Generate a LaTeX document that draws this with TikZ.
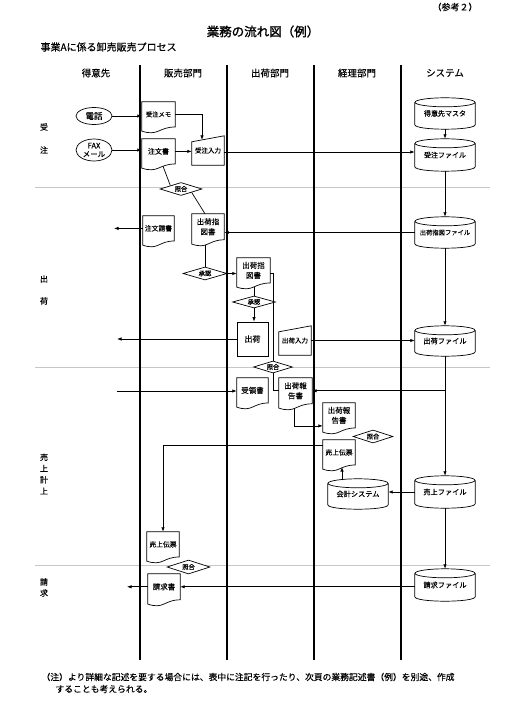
\documentclass[tikz,border=0pt]{standalone}
\usepackage{fontspec}
\setmainfont{Noto Sans CJK JP}[FakeBold=0.25]
\newfontfamily\jpb{Noto Sans CJK JP}[FakeBold=1.6]
\usetikzlibrary{calc,arrows.meta,shapes.geometric}
\tikzset{
 shp/.style={draw=black, line width=0.7pt},
 ln/.style={draw=black, line width=0.7pt},
 arr/.style={ln, -{Latex[length=4.5pt,width=3.4pt]}},
 lane/.style={draw=black, line width=1.2pt},
 divl/.style={draw=black!22, line width=0.7pt},
 box/.style={inner sep=0pt, align=center},
 dia/.style={diamond, draw=black, line width=0.7pt, fill=white, inner sep=0pt, aspect=3, font=\fontsize{6.3}{6.3}\selectfont},
 ell/.style={ellipse, draw=black, line width=0.7pt, inner sep=0pt, align=center},
 rectbox/.style={rectangle, draw=black, line width=0.7pt, inner sep=0pt, align=center},
 hd/.style={font=\fontsize{9.5}{9.5}\selectfont},
 rowl/.style={align=center}
}
\newcommand\mkDoc[7]{%
 \pgfmathsetmacro\docA{0.8*#5}%
 \pgfmathsetmacro\docB{0.307*#5}%
 \pgfmathsetmacro\docC{0.134*#5}%
 \node[box, minimum width=#4pt, minimum height=\docA pt, font=\fontsize{#6}{10}\selectfont] (#1) at (#2,{#3+0.4*#5}) {#7};
 \draw[shp] (#1.north west) -- (#1.north east) -- (#1.south east) .. controls (#1.south) and ($(#1.south)+(0,\docB)$) .. ($(#1.south west)+(0,\docC)$) -- cycle;}
\newcommand\mkManual[8]{%
 \node[box, minimum width=#4pt, minimum height=#5pt, font=\fontsize{#7}{#7}\selectfont] (#1) at (#2,#3) {#8};
 \draw[shp] (#1.south west) -- ($(#1.north west)+(0,#6)$) -- (#1.north east) -- (#1.south east) -- cycle;}
\newcommand\mkCyl[7]{%
 \pgfmathsetmacro\cylR{#4/2}%
 \node[box, minimum width=#4pt, minimum height=#5pt, font=\fontsize{#6}{#6}\selectfont] (#1) at (#2,{#3+#5/2+1}) {#7};
 \draw[shp] ($(#1.north)+(0,4.5)$) ellipse [x radius=\cylR, y radius=4.5];
 \draw[shp] ($(#1.north west)+(0,4.5)$) -- ($(#1.south west)+(0,-4.5)$) .. controls +(0,6) and +(0,6) .. ($(#1.south east)+(0,-4.5)$) -- ($(#1.north east)+(0,4.5)$);}
\begin{document}
\begin{tikzpicture}[x=1pt,y=-1pt]
\useasboundingbox (0,0) rectangle (522,711);
% titles
\node[font=\fontsize{9}{9}\selectfont] (ref) at (455,7) {（参考２）};
\node[font=\jpb\fontsize{12.5}{12.5}\selectfont] (title) at (263,31.5) {業務の流れ図（例）};
\node[anchor=west, font=\fontsize{10}{10}\selectfont] (sub) at (37,47) {事業Aに係る卸売販売プロセス};
% lane headers
\node[hd] (h1) at (96,73) {得意先};
\node[hd] (h2) at (183,73) {販売部門};
\node[hd] (h3) at (270,73) {出荷部門};
\node[hd] (h4) at (357,73) {経理部門};
\node[hd] (h5) at (445,73) {システム};
% dividers
\draw[divl] (35,187) -- (490,187);
\draw[divl] (35,367) -- (490,367);
\draw[divl] (35,565) -- (490,565);
% lanes
\draw[lane] (140,65) -- (140,660);
\draw[lane] (227,65) -- (227,660);
\draw[lane] (314,65) -- (314,660);
\draw[lane] (401,65) -- (401,660);
% row labels
\node[rowl, font=\fontsize{8}{23}\selectfont] (r1) at (44,138.5) {受\\注};
\node[rowl, font=\fontsize{8}{22}\selectfont] (r2) at (44,290) {出\\荷};
\node[rowl, font=\fontsize{8}{11.3}\selectfont] (r3) at (44,474) {売\\上\\計\\上};
\node[rowl, font=\fontsize{8}{11}\selectfont] (r4) at (44,587.5) {請\\求};
% customer
\node[ell, minimum width=36pt, minimum height=17pt, font=\fontsize{8.5}{8.5}\selectfont] (tel) at (94,116) {電話};
\node[ell, minimum width=36pt, minimum height=22pt, font=\fontsize{7.5}{8.5}\selectfont] (fax) at (94,150) {FAX\\メール};
\coordinate (o1) at (114,228);
\coordinate (o2) at (117,341);
\coordinate (i1) at (117,391);
\coordinate (o3) at (127,587);
% documents
\mkDoc{memo}{158.5}{102}{33}{31}{6.3}{受注メモ}
\mkDoc{chumon}{158.5}{139}{33}{31}{7}{注文書}
\mkManual{nyu1}{208}{150.5}{32}{29}{6}{6.5}{受注入力}
\mkDoc{ukesho}{158.5}{216}{31}{31}{6.8}{注文請書}
\mkDoc{shizu1}{208}{214}{32}{32}{7.5}{出荷指\\図書}
\mkDoc{shizu2}{253.5}{258}{33}{31}{7.5}{出荷指\\図書}
\node[rectbox, minimum width=31pt, minimum height=34pt, font=\fontsize{8}{8}\selectfont] (shukka) at (252.5,339) {出荷};
\mkManual{nyu2}{295}{340.5}{32}{29}{6}{6.5}{出荷入力}
\mkDoc{juryo}{252.5}{378}{31}{31}{7.5}{受領書}
\mkDoc{hok1}{295.5}{378}{33}{32}{7.5}{出荷報\\告書}
\mkDoc{hok2}{339}{403}{32}{31}{7.5}{出荷報\\告書}
\mkDoc{uri1}{339}{440}{32}{31}{6.8}{売上伝票}
\mkDoc{uri2}{163}{532}{32}{31}{6.8}{売上伝票}
\mkDoc{seikyu}{164}{574}{32}{32}{7.5}{請求書}
% cylinders
\mkCyl{master}{445}{97}{60}{31}{7}{得意先マスタ}
\mkCyl{jfile}{445}{138}{60}{32}{7}{受注ファイル}
\mkCyl{sfile}{445}{216}{60}{31}{6.3}{出荷指図ファイル}
\mkCyl{kfile}{445}{325}{60}{30}{7.2}{出荷ファイル}
\mkCyl{kaikei}{358}{478}{60}{30}{7.2}{会計システム}
\mkCyl{ufile}{445}{475}{60}{32}{7.2}{売上ファイル}
\mkCyl{sefile}{445}{568}{60}{32}{7.2}{請求ファイル}
% diamonds
\node[dia, minimum width=42pt, minimum height=13pt] (d1) at (181,189) {照合};
\node[dia, minimum width=44pt, minimum height=13pt] (d2) at (205,273.5) {承認};
\node[dia, minimum width=43pt, minimum height=12pt] (d3) at (254,302) {承認};
\node[dia, minimum width=39pt, minimum height=12pt] (d4) at (273,367) {照合};
\node[dia, minimum width=40pt, minimum height=13pt] (d5) at (373,436.5) {照合};
\node[dia, minimum width=43pt, minimum height=14pt] (d6) at (188.5,567) {照合};
% connectors
\draw[arr] (tel.east) -- (tel.east -| memo.west);
\draw[arr] (fax.east) -- (fax.east -| chumon.west);
\draw[arr] (chumon.east) -- (chumon.east -| nyu1.west);
\draw[arr] (memo.east) -| ($(nyu1.north)+(-6,4.1)$);
\draw[arr] ($(nyu1.east)+(0,1.5)$) -- ($(nyu1.east -| jfile.west)+(0,1.5)$);
\draw[arr] (master.south) -- (jfile.north);
\draw[arr] (jfile.south) -- (sfile.north);
\draw[arr] (sfile.west) -- (sfile.west -| shizu1.east);
\draw[arr] (sfile.south) -- (kfile.north);
\draw[arr] (nyu2.east) -- (nyu2.east -| kfile.west);
\draw[arr] (kfile.south) -- (ufile.north);
\draw[arr] (kfile.south |- hok1.east) -- (hok1.east);
\draw[arr] (ufile.south) -- (sefile.north);
\draw[arr] (ufile.west) -- (ufile.west -| kaikei.east);
\draw[arr] ($(kaikei.north)+(-16,1.5)$) -- ($(uri1.south)+(3,2)$);
\draw[arr] (seikyu.east -| sefile.west) -- (seikyu.east);
\draw[arr] (seikyu.west) -- (seikyu.west -| o3);
\draw[arr] (ukesho.west) -- (ukesho.west -| o1);
\draw[arr] (shukka.west) -- (shukka.west -| o2);
\draw[arr] (i1) -- (i1 -| juryo.west);
\draw[ln] ($(chumon.south)+(4.5,2.2)$) -- ($(d1.west)!0.5!(d1.north)$);
\draw[ln] ($(d1.east)!0.5!(d1.south)$) -- ($(shizu1.north)+(-3,0)$);
\draw[ln] ($(shizu1.south)+(-3,4.8)$) -- (d2.north);
\draw[arr] (d2.east) -- (d2.east -| shizu2.west);
\draw[ln] ($(shizu2.east)+(0,2.5)$) -| (d4.north);
\draw[ln] ($(shizu2.south)+(0.5,4)$) -- (d3.north);
\draw[arr] (d3.south) -- (d3.south |- shukka.north);
\draw[ln] (d4.south) |- (hok1.west);
\draw[arr] ($(hok1.south)+(-1.5,4.5)$) |- ($(hok2.west)+(0,10.5)$);
\draw[arr] ($(uri1.north west)+(0,6)$) -| (uri2.north);
% footnote
\node[anchor=west, font=\fontsize{8.8}{8.8}\selectfont] (n1) at (38,677) {（注）より詳細な記述を要する場合には、表中に注記を行ったり、次頁の業務記述書（例）を別途、作成};
\node[anchor=west, font=\fontsize{8.8}{8.8}\selectfont] (n2) at (52,689) {することも考えられる。};
\end{tikzpicture}
\end{document}
